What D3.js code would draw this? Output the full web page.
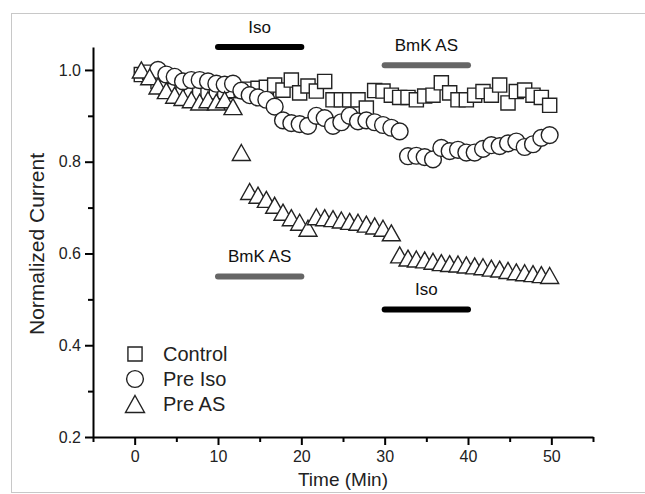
<!DOCTYPE html>
<html>
<head>
<meta charset="utf-8">
<script src="https://cdn.jsdelivr.net/npm/d3@7"></script>
<style>
    body { margin: 0; background: #fff; }
    svg { display: block; font-family: Arial, "Liberation Sans", sans-serif; }
</style>
</head>
<body>
<div class="svg"></div>
<script>
// sampling times (min), shared by the three recordings
var minutes = [0.8, 1.8, 2.8, 3.8, 4.8, 5.8, 6.8, 7.8, 8.8, 9.8,
    10.8, 11.8, 12.8, 13.8, 14.8, 15.8, 16.8, 17.8, 18.8, 19.8,
    20.8, 21.8, 22.8, 23.8, 24.8, 25.8, 26.8, 27.8, 28.8, 29.8,
    30.8, 31.8, 32.8, 33.8, 34.8, 35.8, 36.8, 37.8, 38.8, 39.8,
    40.8, 41.8, 42.8, 43.8, 44.8, 45.8, 46.8, 47.8, 48.8, 49.8];

var control = [0.99, 0.995, 0.975, 0.96, 0.955, 0.95, 0.95, 0.948, 0.95, 0.952,
    0.953, 0.955, 0.955, 0.958, 0.96, 0.962, 0.967, 0.956, 0.978, 0.95,
    0.965, 0.954, 0.975, 0.935, 0.935, 0.935, 0.935, 0.917, 0.955, 0.954,
    0.945, 0.94, 0.94, 0.935, 0.943, 0.945, 0.972, 0.95, 0.935, 0.935,
    0.945, 0.953, 0.945, 0.967, 0.928, 0.953, 0.956, 0.945, 0.94, 0.923];

var preIso = [null, null, 1.0, 0.99, 0.985, 0.975, 0.978, 0.978, 0.975, 0.97,
    0.968, 0.97, 0.955, 0.945, 0.94, 0.935, 0.92, 0.89, 0.884, 0.882,
    0.878, 0.9, 0.895, 0.878, 0.886, 0.9, 0.888, 0.89, 0.886, 0.88,
    0.874, 0.866, 0.812, 0.813, 0.81, 0.805, 0.83, 0.823, 0.826, 0.82,
    0.82, 0.828, 0.836, 0.834, 0.84, 0.844, 0.832, 0.838, 0.852, 0.858];

var preAS = [1.0, 0.985, 0.965, 0.955, 0.945, 0.94, 0.935, 0.93, 0.935, 0.93,
    0.935, 0.92, 0.82, 0.735, 0.727, 0.718, 0.705, 0.69, 0.678, 0.668,
    0.655, 0.68, 0.678, 0.676, 0.673, 0.67, 0.668, 0.664, 0.66, 0.655,
    0.645, 0.597, 0.59, 0.588, 0.586, 0.583, 0.58, 0.578, 0.577, 0.575,
    0.573, 0.571, 0.568, 0.566, 0.563, 0.56, 0.558, 0.556, 0.554, 0.552];

var seriesNames = ["Control", "Pre Iso", "Pre AS"];
var xTicks = [0, 10, 20, 30, 40, 50];
var xMinorTicks = [-5, 5, 15, 25, 35, 45, 55];
var yTicks = [0.2, 0.4, 0.6, 0.8, 1.0];
var yMinorTicks = [0.3, 0.5, 0.7, 0.9];

// drug application bars
var barLabels = ["Iso", "BmK AS", "BmK AS", "Iso"];
var barStart = [10, 30, 10, 30];
var barEnd = [20, 40, 20, 40];

var width = 645, height = 494;
var svg, x, y;

var setupSVG = function () {
    svg = d3.select("div.svg")
        .append("svg")
        .attr("width", width)
        .attr("height", height);

    // light frame round the figure
    svg.append("rect")
        .attr("x", 11.5).attr("y", 13.5)
        .attr("width", 660).attr("height", 479)
        .style("fill", "none")
        .style("stroke", "#c8c8c8");

    x = d3.scaleLinear().domain([-5, 55]).range([93, 593]);
    y = d3.scaleLinear().domain([0.2, 1.05]).range([437, 47]);
};

var drawAxes = function () {
    svg.append("g")
        .attr("transform", "translate(0," + y(0.2) + ")")
        .call(d3.axisBottom(x).tickValues(xTicks).tickSize(8).tickSizeOuter(0).tickPadding(6).tickFormat(d3.format("d")));
    svg.append("g")
        .attr("transform", "translate(0," + y(0.2) + ")")
        .call(d3.axisBottom(x).tickValues(xMinorTicks).tickSize(5).tickSizeOuter(0).tickFormat(""))
        .select(".domain").remove();

    svg.append("g")
        .attr("transform", "translate(" + x(-5) + ",0)")
        .call(d3.axisLeft(y).tickValues(yTicks).tickSize(8).tickSizeOuter(0).tickPadding(4).tickFormat(d3.format(".1f")));
    svg.append("g")
        .attr("transform", "translate(" + x(-5) + ",0)")
        .call(d3.axisLeft(y).tickValues(yMinorTicks).tickSize(5).tickSizeOuter(0).tickFormat(""))
        .select(".domain").remove();

    svg.selectAll(".domain, .tick line")
        .style("stroke", "#000")
        .style("stroke-width", 2);
    svg.selectAll(".tick text")
        .style("font-family", "Arial, 'Liberation Sans', sans-serif")
        .style("font-size", "16px")
        .style("fill", "#222");

    svg.append("text")
        .attr("x", (x(-5) + x(55)) / 2)
        .attr("y", 486)
        .attr("text-anchor", "middle")
        .style("font-size", "19px")
        .style("fill", "#222")
        .text("Time (Min)");

    svg.append("text")
        .attr("transform", "translate(44," + ((y(0.2) + y(1.05)) / 2 + 2) + ") rotate(-90)")
        .attr("text-anchor", "middle")
        .style("font-size", "21px")
        .style("fill", "#222")
        .text("Normalized Current");
};

var squareSym = d3.symbol().type(d3.symbolSquare).size(200);
var circleSym = d3.symbol().type(d3.symbolCircle).size(Math.PI * 8.4 * 8.4);
// triangle drawn by hand so its box is centred on the point
var triPath = function (w, h) {
    return "M0," + (-h / 2) + "L" + (w / 2) + "," + (h / 2) + "L" + (-w / 2) + "," + (h / 2) + "Z";
};

var markerStyle = function (sel) {
    sel.style("fill", "#fff")
        .style("stroke", "#222")
        .style("stroke-width", 1.4);
};

var drawSeries = function (values, shape) {
    var pts = minutes.map(function (t, i) { return {t: t, v: values[i]}; })
        .filter(function (d) { return d.v !== null; });
    svg.append("g").selectAll("path")
        .data(pts)
        .enter()
        .append("path")
        .attr("transform", function (d) { return "translate(" + x(d.t) + "," + y(d.v) + ")"; })
        .attr("d", shape)
        .call(markerStyle);
};

var drawBars = function () {
    // y level of each bar and its label, in data units
    var barLevel = [1.05, 1.01, 0.55, 0.478];
    var barColor = ["#000", "#666", "#666", "#000"];
    barLabels.forEach(function (lab, i) {
        svg.append("line")
            .attr("x1", x(barStart[i])).attr("x2", x(barEnd[i]))
            .attr("y1", y(barLevel[i])).attr("y2", y(barLevel[i]))
            .style("stroke", barColor[i])
            .style("stroke-width", 6)
            .style("stroke-linecap", "round");
        svg.append("text")
            .attr("x", (x(barStart[i]) + x(barEnd[i])) / 2)
            .attr("y", y(barLevel[i]) - 14)
            .attr("text-anchor", "middle")
            .style("font-size", "17px")
            .style("fill", "#111")
            .text(lab);
    });
};

var drawLegend = function () {
    var shapes = [squareSym(), circleSym(), triPath(19, 17)];
    var g = svg.append("g");
    seriesNames.forEach(function (name, i) {
        var ly = 354 + i * 25;
        g.append("path")
            .attr("transform", "translate(135," + ly + ")")
            .attr("d", shapes[i])
            .call(markerStyle);
        g.append("text")
            .attr("x", 163)
            .attr("y", ly + 7)
            .style("font-size", "20px")
            .style("fill", "#222")
            .text(name);
    });
};

setupSVG();
drawAxes();
drawBars();
drawSeries(control, squareSym());
drawSeries(preIso, circleSym());
drawSeries(preAS, triPath(18, 16));
drawLegend();
</script>
</body>
</html>
